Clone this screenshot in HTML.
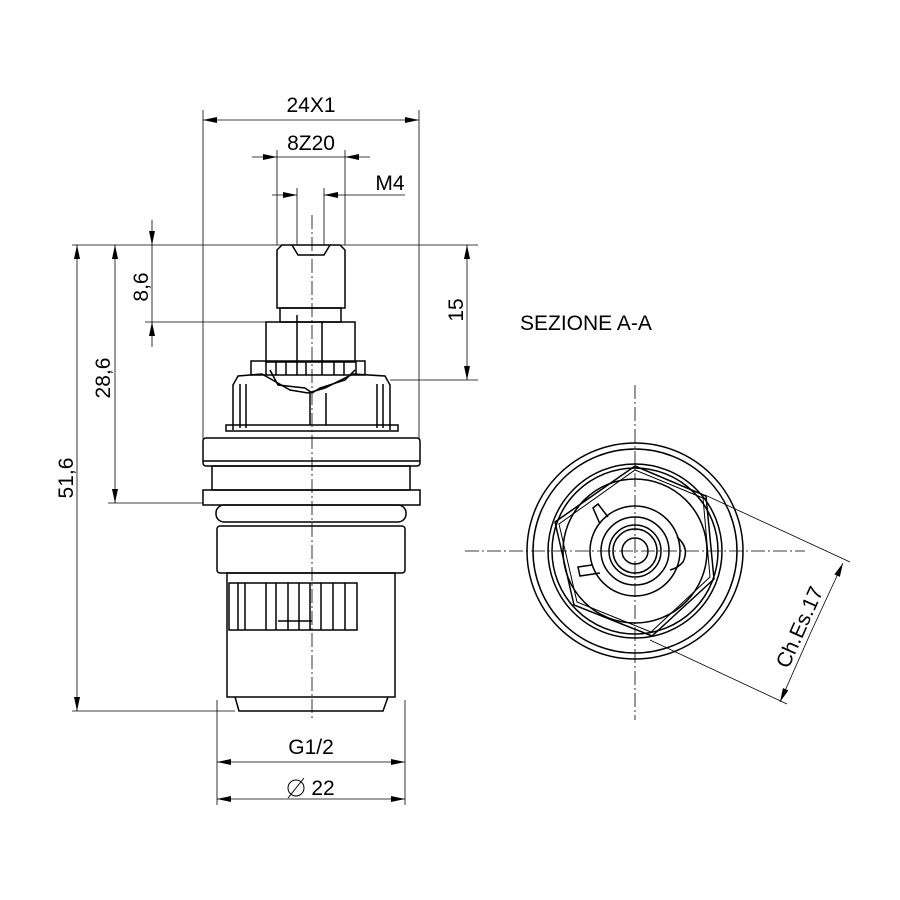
<!DOCTYPE html>
<html><head><style>html,body{margin:0;padding:0;background:#fff}svg{display:block}</style></head>
<body>
<svg width="900" height="900" viewBox="0 0 900 900" xmlns="http://www.w3.org/2000/svg" font-family="Liberation Sans, sans-serif">
<defs>
<marker id="a" markerWidth="14" markerHeight="6" refX="14" refY="3" orient="auto" markerUnits="userSpaceOnUse"><path d="M0,0 L14,3 L0,6 z" fill="#000"/></marker>
</defs>
<g stroke="#000" stroke-width="0.8" fill="none">
<line x1="203" y1="110" x2="203" y2="440"/>
<line x1="419" y1="110" x2="419" y2="440"/>
<line x1="277" y1="150" x2="277" y2="245"/>
<line x1="345" y1="150" x2="345" y2="245"/>
<line x1="297" y1="188" x2="297" y2="245"/>
<line x1="324" y1="188" x2="324" y2="245"/>
<line x1="72" y1="245" x2="478" y2="245"/>
<line x1="145" y1="322" x2="355" y2="322"/>
<line x1="108" y1="503" x2="203" y2="503"/>
<line x1="72" y1="711" x2="235" y2="711"/>
<line x1="390" y1="380" x2="478" y2="380"/>
<line x1="217" y1="700" x2="217" y2="805"/>
<line x1="405" y1="700" x2="405" y2="805"/>
<line x1="312" y1="120" x2="203" y2="120" marker-end="url(#a)"/>
<line x1="312" y1="120" x2="419" y2="120" marker-end="url(#a)"/>
<line x1="252" y1="157" x2="277" y2="157" marker-end="url(#a)"/>
<line x1="370" y1="157" x2="345" y2="157" marker-end="url(#a)"/>
<line x1="277" y1="157" x2="345" y2="157"/>
<line x1="272" y1="195" x2="297" y2="195" marker-end="url(#a)"/>
<line x1="405" y1="195" x2="324" y2="195" marker-end="url(#a)"/>
<line x1="77" y1="478" x2="77" y2="245" marker-end="url(#a)"/>
<line x1="77" y1="478" x2="77" y2="711" marker-end="url(#a)"/>
<line x1="115" y1="374" x2="115" y2="245" marker-end="url(#a)"/>
<line x1="115" y1="374" x2="115" y2="503" marker-end="url(#a)"/>
<line x1="152" y1="220" x2="152" y2="245" marker-end="url(#a)"/>
<line x1="152" y1="347" x2="152" y2="322" marker-end="url(#a)"/>
<line x1="152" y1="245" x2="152" y2="322"/>
<line x1="467" y1="312" x2="467" y2="245" marker-end="url(#a)"/>
<line x1="467" y1="312" x2="467" y2="380" marker-end="url(#a)"/>
<line x1="311" y1="762" x2="217" y2="762" marker-end="url(#a)"/>
<line x1="311" y1="762" x2="405" y2="762" marker-end="url(#a)"/>
<line x1="311" y1="799" x2="217" y2="799" marker-end="url(#a)"/>
<line x1="311" y1="799" x2="405" y2="799" marker-end="url(#a)"/>
<line x1="705" y1="495" x2="850" y2="562"/>
<line x1="650" y1="640" x2="787" y2="704"/>
<line x1="811" y1="632" x2="843" y2="563" marker-end="url(#a)"/>
<line x1="811" y1="632" x2="780" y2="702" marker-end="url(#a)"/>
<line x1="312" y1="215" x2="312" y2="720" stroke-dasharray="14,3,2,3"/>
<line x1="635" y1="385" x2="635" y2="720" stroke-dasharray="14,3,2,3"/>
<line x1="465" y1="551" x2="805" y2="551" stroke-dasharray="14,3,2,3"/>
</g>
<g stroke="#000" stroke-width="1.5" fill="none">
<path d="M277,250 L282,245 L340,245 L345,250 L345,308 L277,308 Z"/>
<path d="M292,245 L298,255 L324,255 L330,245"/>
<rect x="280" y="308" width="61" height="14"/>
<rect x="266" y="322" width="89" height="40"/>
<line x1="297" y1="315" x2="297" y2="375"/>
<line x1="322" y1="322" x2="322" y2="375"/>
<rect x="251" y="361" width="114" height="14"/>
<path d="M266,361 v14 M276,361 v14 M286,361 v14 M306,361 v14 M334,361 v14 M344,361 v14 M356,361 v14"/>
<path d="M233,430 L233,385 L238,376 L262,374 L290,390 L308,393 L325,388 L353,374 L385,376 L390,385 L390,430"/>
<path d="M270,370 L278,385 L305,388 L312,393 L320,388 L345,380 L355,370"/>
<path d="M240,428 V384 M246,428 V384 M377,428 V384 M383,428 V384"/>
<line x1="310" y1="393" x2="310" y2="425"/><line x1="326" y1="393" x2="326" y2="425"/>
<rect x="226" y="425" width="172" height="6"/>
<rect x="203" y="438" width="217" height="28" rx="3"/>
<line x1="203" y1="461" x2="420" y2="461"/>
<rect x="212" y="466" width="198" height="24"/>
<rect x="203" y="490" width="217" height="15"/>
<rect x="216" y="505" width="190" height="17" rx="8"/>
<rect x="217" y="526" width="188" height="47" rx="3"/>
<rect x="227" y="573" width="168" height="124"/>
<rect x="229" y="583" width="128" height="47"/>
<path d="M238,583 v47 M245,583 v47 M266,583 v47 M276,583 v47 M288,583 v47 M299,583 v47 M310,583 v47 M321,583 v47 M333,583 v47 M345,583 v47"/>
<path d="M278,621 H312"/>
<path d="M235,697 L239,711 L383,711 L388,697"/>
</g>
<g stroke="#000" stroke-width="1.5" fill="none">
<circle cx="635" cy="551" r="108"/>
<circle cx="635" cy="551" r="102"/>
<circle cx="635" cy="551" r="87"/>
<circle cx="635" cy="551" r="83"/>
<circle cx="635" cy="551" r="72"/>
<polygon points="635,466 706,496 714,579 652,636 574,605 555,522"/>
<polygon points="635,470 703,498 710,577 651,632 577,602 559,524" stroke-width="1"/>
<circle cx="635" cy="551" r="45"/>
<circle cx="635" cy="551" r="34"/>
<circle cx="635" cy="551" r="26"/>
<circle cx="635" cy="551" r="22"/>
<circle cx="635" cy="551" r="13"/>
<path d="M600,524 L593,508 L598,504 L608,517"/>
<path d="M592,565 L578,567 L580,576 L600,573"/>
<path d="M677,537 Q690,548 683,562 Q678,568 670,570"/>
</g>
<g font-size="21" fill="#000">
<text x="311" y="112" text-anchor="middle">24X1</text>
<text x="311" y="150" text-anchor="middle">8Z20</text>
<text x="390" y="190" text-anchor="middle">M4</text>
<text x="311" y="754" text-anchor="middle">G1/2</text>
<text x="323" y="795" text-anchor="middle">22</text>
<text x="520" y="330">SEZIONE A-A</text>
<text transform="translate(148,287) rotate(-90)" text-anchor="middle">8,6</text>
<text transform="translate(110,378) rotate(-90)" text-anchor="middle">28,6</text>
<text transform="translate(73,478) rotate(-90)" text-anchor="middle">51,6</text>
<text transform="translate(463,310) rotate(-90)" text-anchor="middle">15</text>
<text transform="translate(806,630) rotate(-66)" text-anchor="middle">Ch.Es.17</text>
</g>
<g stroke="#000" stroke-width="1" fill="none"><circle cx="296" cy="788" r="8"/><line x1="288" y1="798" x2="304" y2="778"/></g>
</svg>
</body></html>
